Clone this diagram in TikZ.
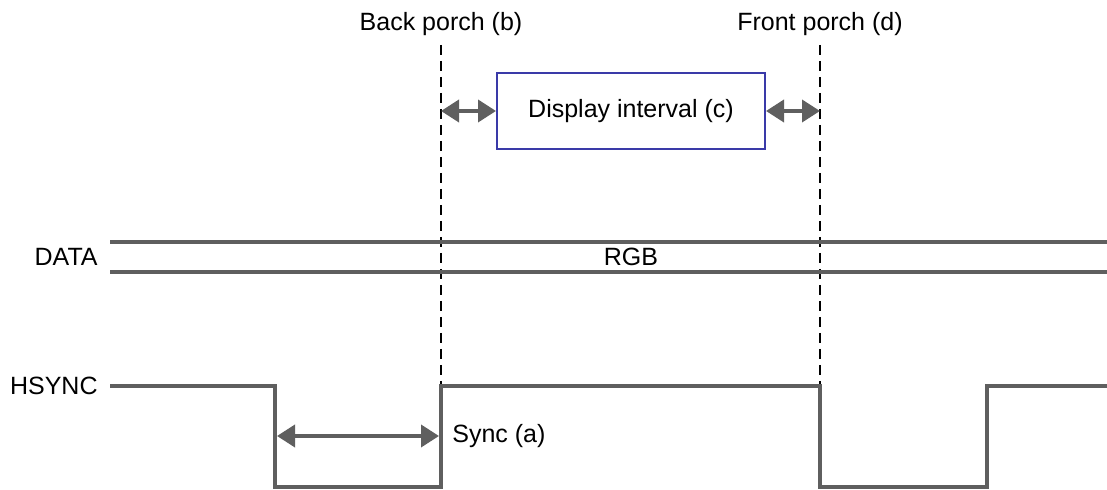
\documentclass[tikz,border=0pt]{standalone}
\usepackage{fontspec}
\setmainfont{Liberation Sans}
\usetikzlibrary{arrows.meta}
\definecolor{sigcol}{HTML}{5F5F5F}
\definecolor{boxcol}{HTML}{3A3AA8}
\tikzset{
  sig/.style={line width=1.9pt,color=sigcol},
  dim/.style={line width=1.9pt,color=sigcol,{Triangle[length=9pt,width=11pt]}-{Triangle[length=9pt,width=11pt]}},
  porch/.style={dash pattern=on 5pt off 3pt,line width=0.9pt},
  lbl/.style={font=\fontsize{12.5}{15}\selectfont,inner sep=0pt}
}
\begin{document}
\begin{tikzpicture}[x=0.5pt,y=-0.5pt]
                \useasboundingbox (0,0) rectangle (1107,490);
                % porch markers
                \coordinate (bpt) at (441,45); \coordinate (bpb) at (441,386);
                \coordinate (fpt) at (820,45); \coordinate (fpb) at (820,386);
                \draw[porch] (bpt) -- (bpb);
                \draw[porch] (fpt) -- (fpb);
                \node[lbl] (backlbl) at (441,24) {Back porch (b)};
                \node[lbl] (frontlbl) at (820,24) {Front porch (d)};
                % display interval
                \node[lbl,draw=boxcol,line width=1pt,minimum width=134pt,minimum height=38pt] (disp) at (631,111) {Display interval (c)};
                \draw[dim] (disp.west -| bpt) -- (disp.west);
                \draw[dim] (disp.east) -- (disp.east -| fpt);
                % DATA bus
                \node[lbl,anchor=east] (datalbl) at (98,257) {DATA};
                \draw[sig] (110,242) -- (1107,242) (110,272) -- (1107,272);
                \node[lbl] (rgb) at (631,257) {RGB};
                % HSYNC
                \node[lbl,anchor=east] (hsynclbl) at (98,386) {HSYNC};
                \draw[sig] (110,386) -- (275,386) -- (275,487) -- (441,487) -- (441,386) -- (820,386) -- (820,487) -- (987,487) -- (987,386) -- (1107,386);
                \coordinate (sa) at (277,436); \coordinate (sb) at (439,436);
                \draw[dim] (sa) -- (sb);
                \node[lbl,anchor=west] (synclbl) at (452,436) {Sync (a)};
            \end{tikzpicture}
\end{document}
